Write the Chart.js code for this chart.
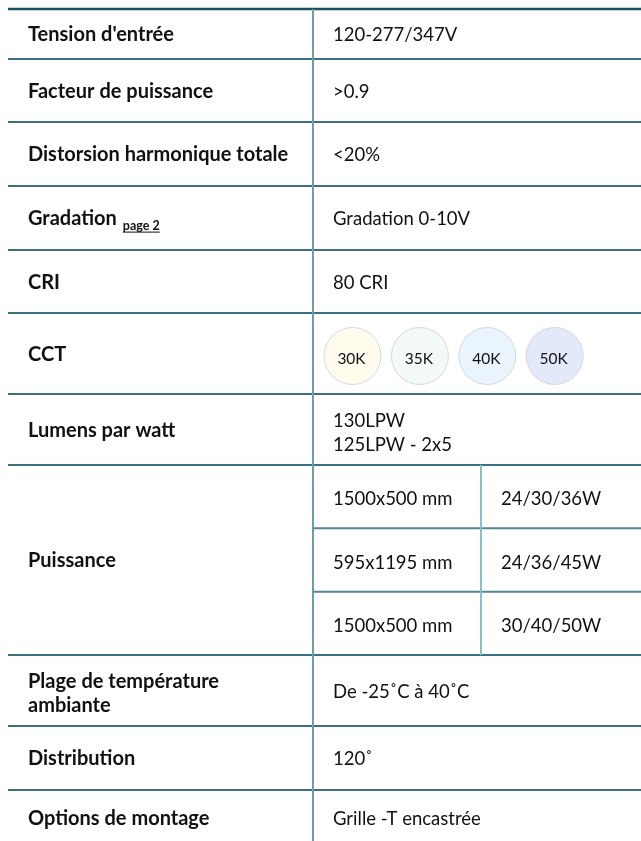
<!DOCTYPE html>
<html lang="fr">
<head>
    <meta charset="UTF-8">
    <title>Fiche technique</title>
    <script src="https://cdn.jsdelivr.net/npm/chart.js"></script>
    <style>
        body { margin: 0; padding: 0; background: #ffffff; }
        #specChart { display: block; }
    </style>
</head>
<body>

<canvas id="specChart" width="641" height="841"></canvas>

<script>
    // Table data
    const specLabels = ["Tension d'entrée", "Facteur de puissance", "Distorsion harmonique totale", "Gradation", "CRI", "CCT",
        "Lumens par watt", "Puissance", "Plage de température\nambiante", "Distribution", "Options de montage"];
    const specNotes = ["", "", "", "page 2", "", "", "", "", "", "", ""];
    const specValues = ["120-277/347V", ">0.9", "<20%", "Gradation 0-10V", "80 CRI", "",
        "130LPW\n125LPW - 2x5", "", "De -25˚C à 40˚C", "120˚", "Grille -T encastrée"];
    const cctLabels = ["30K", "35K", "40K", "50K"];
    const powerSizes = ["1500x500 mm", "595x1195 mm", "1500x500 mm"];
    const powerWatts = ["24/30/36W", "24/36/45W", "30/40/50W"];

    // Layout (scale units = px below the top rule)
    const rowHeights = [50, 63, 64, 64, 63, 81, 71, 190, 71, 64, 56];
    const cctRow = 5, powerRow = 7;
    const colSplit = 305, subSplit = 473, tableWidth = 633;
    const textPad = 20, lineGap = 24;
    const cctFill = ['#fffcee', '#f3f8f8', '#e9f4fd', '#e4e8fb'];
    const FONT = 'Lato, "Open Sans", sans-serif';

    const rowEdges = [0];
    rowHeights.forEach(h => rowEdges.push(rowEdges[rowEdges.length - 1] + h));
    const rowMid = i => (rowEdges[i] + rowEdges[i + 1]) / 2;

    function drawLines(ctx, text, x, yMid, size, weight) {
        ctx.font = weight + ' ' + size + 'px ' + FONT;
        const lines = text.split('\n');
        const cap = 13.3;
        const shift = lines.length > 1 ? 2.5 : 0.5;
        lines.forEach((ln, k) => {
            const y = yMid + cap / 2 + shift + (k - (lines.length - 1) / 2) * lineGap;
            ctx.fillText(ln, x, y);
        });
        return ctx.measureText(lines[0]).width;
    }

    const tableGrid = {
        id: 'tableGrid',
        beforeDatasetsDraw(chart) {
            const { ctx, scales: { x, y } } = chart;
            const px = v => x.getPixelForValue(v);
            const py = v => y.getPixelForValue(v);
            ctx.save();
            // horizontal rules
            rowEdges.forEach((e, i) => {
                ctx.beginPath();
                ctx.lineWidth = i === 0 ? 2.5 : 2;
                ctx.strokeStyle = i === 0 ? '#18525f' : '#3a717e';
                ctx.moveTo(px(0), py(e));
                ctx.lineTo(px(tableWidth), py(e));
                ctx.stroke();
            });
            // sub rows of Puissance
            const top = rowEdges[powerRow], sub = rowHeights[powerRow] / powerSizes.length;
            ctx.strokeStyle = '#4d8591';
            ctx.lineWidth = 2;
            for (let k = 1; k < powerSizes.length; k++) {
                ctx.beginPath();
                ctx.moveTo(px(colSplit), py(top + k * sub));
                ctx.lineTo(px(tableWidth), py(top + k * sub));
                ctx.stroke();
            }
            // column dividers
            ctx.strokeStyle = '#6b9ea8';
            ctx.beginPath();
            ctx.moveTo(px(colSplit), py(0));
            ctx.lineTo(px(colSplit), py(rowEdges[rowEdges.length - 1]));
            ctx.stroke();
            ctx.strokeStyle = '#86c1cb';
            ctx.beginPath();
            ctx.moveTo(px(subSplit), py(top));
            ctx.lineTo(px(subSplit), py(rowEdges[powerRow + 1]));
            ctx.stroke();
            ctx.restore();
        },
        afterDatasetsDraw(chart) {
            const { ctx, scales: { x, y } } = chart;
            const px = v => x.getPixelForValue(v);
            const py = v => y.getPixelForValue(v);
            ctx.save();
            ctx.fillStyle = '#111111';
            ctx.textAlign = 'left';
            ctx.textBaseline = 'alphabetic';
            specLabels.forEach((lab, i) => {
                const w = drawLines(ctx, lab, px(textPad), py(rowMid(i)), 20, 'bold');
                if (specNotes[i]) {
                    ctx.font = 'bold 12.5px ' + FONT;
                    const nx = px(textPad) + w + 6, ny = py(rowMid(i)) + 7.1 + 5;
                    ctx.fillText(specNotes[i], nx, ny);
                    const nw = ctx.measureText(specNotes[i]).width;
                    ctx.fillRect(nx, ny + 1.5, nw, 1);
                }
                if (specValues[i]) drawLines(ctx, specValues[i], px(colSplit + textPad), py(rowMid(i)), 18.5, 'normal');
            });
            // Puissance sub-table
            const top = rowEdges[powerRow], sub = rowHeights[powerRow] / powerSizes.length;
            powerSizes.forEach((s, k) => {
                const mid = py(top + (k + 0.5) * sub) + 1.5;
                drawLines(ctx, s, px(colSplit + textPad), mid, 18.5, 'normal');
                drawLines(ctx, powerWatts[k], px(subSplit + textPad), mid, 18.5, 'normal');
            });
            // CCT labels inside the circles
            ctx.textAlign = 'center';
            ctx.font = '15.5px ' + FONT;
            const meta = chart.getDatasetMeta(0);
            meta.data.forEach((pt, k) => {
                ctx.fillText(cctLabels[k], pt.x - 1, pt.y + 7.5);
            });
            ctx.restore();
        }
    };

    const cctPoints = cctLabels.map((lab, k) => ({ x: colSplit + 39.5 + k * 67.4, y: rowMid(cctRow) + 2.5 }));

    new Chart(document.getElementById('specChart'), {
        type: 'scatter',
        data: {
            datasets: [{
                label: 'CCT',
                data: cctPoints,
                pointRadius: 28.5,
                pointHoverRadius: 28.5,
                backgroundColor: cctFill,
                borderColor: '#d8d8d8',
                borderWidth: 1
            }]
        },
        options: {
            responsive: false,
            animation: false,
            devicePixelRatio: 1,
            layout: { autoPadding: false, padding: { left: 8, top: 9, right: 0, bottom: 0 } },
            plugins: { legend: { display: false }, tooltip: { enabled: false } },
            scales: {
                x: { type: 'linear', min: 0, max: tableWidth, display: false },
                y: { type: 'linear', min: 0, max: 832, reverse: true, display: false }
            }
        },
        plugins: [tableGrid]
    });
</script>

</body>
</html>
